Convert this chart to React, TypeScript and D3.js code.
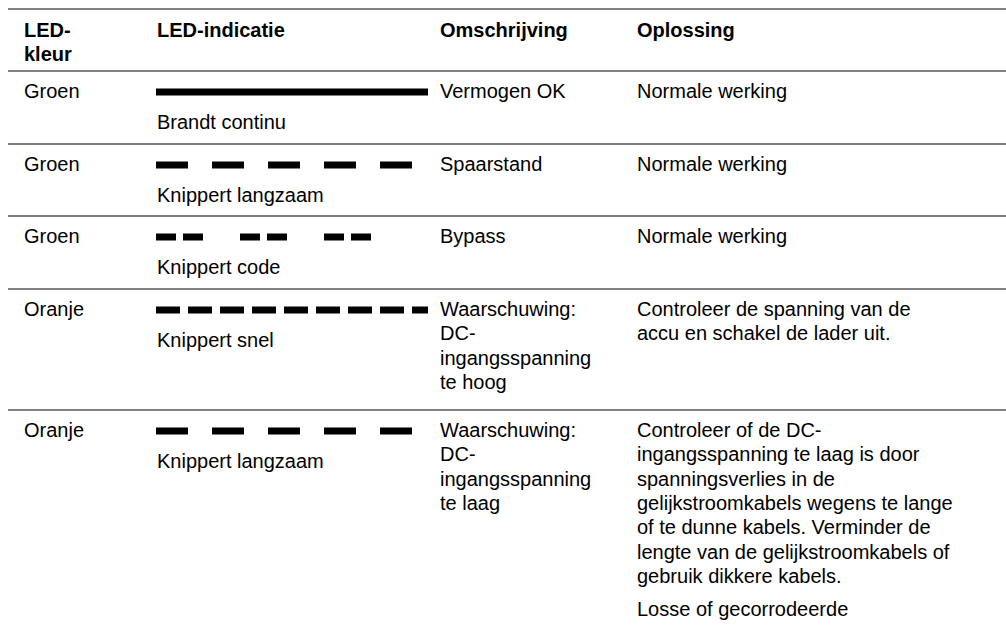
import React, { useEffect, useRef } from "react";
import * as d3 from "d3";

// table content
const headers = [["LED-", "kleur"], ["LED-indicatie"], ["Omschrijving"], ["Oplossing"]];
const colours = ["Groen", "Groen", "Groen", "Oranje", "Oranje"];
const patterns = ["solid", "slow", "code", "fast", "slow"];
const indications = ["Brandt continu", "Knippert langzaam", "Knippert code", "Knippert snel", "Knippert langzaam"];
const descriptions = [
  ["Vermogen OK"],
  ["Spaarstand"],
  ["Bypass"],
  ["Waarschuwing:", "DC-", "ingangsspanning", "te hoog"],
  ["Waarschuwing:", "DC-", "ingangsspanning", "te laag"],
];
const solutions = [
  [["Normale werking"]],
  [["Normale werking"]],
  [["Normale werking"]],
  [["Controleer de spanning van de", "accu en schakel de lader uit."]],
  [
    [
      "Controleer of de DC-",
      "ingangsspanning te laag is door",
      "spanningsverlies in de",
      "gelijkstroomkabels wegens te lange",
      "of te dunne kabels. Verminder de",
      "lengte van de gelijkstroomkabels of",
      "gebruik dikkere kabels.",
    ],
    ["Losse of gecorrodeerde"],
  ],
];
// blink patterns: dash lengths / gaps and the span of the indicator
const patternDash: Record<string, string | null> = {
  solid: null,
  slow: "32,24",
  code: "20,7,20,37",
  fast: "24,8",
};
const patternSpan: Record<string, number> = { solid: 272, slow: 272, code: 216, fast: 272 };

function LedTable() {
  const svgRef = useRef<SVGSVGElement>(null);
  const svgWidth = 1006;
  const svgHeight = 628;

  useEffect(() => {
    const svg = d3.select(svgRef.current);
    svg.selectAll("*").remove();

    const colX = [24, 157, 440, 637];
    const left = 8;
    const lineH = 24.3;
    const headerTop = 9;
    const headerBottom = 71;

    const font = "'Liberation Sans', Arial, sans-serif";
    const fontSize = 20;

    // row heights from number of text lines
    const rowLines = descriptions.map((d, i) => {
      const sol = solutions[i].reduce((s, p) => s + p.length, 0);
      return Math.max(2, d.length, sol);
    });
    const rowTops: number[] = [];
    let y = headerBottom;
    rowLines.forEach((n) => {
      rowTops.push(Math.round(y));
      y += n * lineH + 24;
    });

    const x = d3.scaleLinear().domain([0, 1]).range([156, 428]);

    // header
    headers.forEach((h, ci) => {
      h.forEach((t, li) => {
        svg
          .append("text")
          .attr("x", colX[ci])
          .attr("y", 37 + li * 24)
          .style("font-family", font)
          .style("font-size", fontSize + "px")
          .style("font-weight", "bold")
          .attr("fill", "#000")
          .text(t);
      });
    });

    // rule lines
    const rules = [headerTop, headerBottom, ...rowTops.slice(1)];
    svg
      .selectAll(".rule")
      .data(rules)
      .enter()
      .append("line")
      .attr("class", "rule")
      .attr("x1", left)
      .attr("x2", svgWidth)
      .attr("y1", (d) => d)
      .attr("y2", (d) => d)
      .attr("stroke", "#808080")
      .attr("stroke-width", 2);

    const addText = (t: string, xx: number, yy: number) =>
      svg
        .append("text")
        .attr("x", xx)
        .attr("y", yy)
        .style("font-family", font)
        .style("font-size", fontSize + "px")
        .attr("fill", "#000")
        .text(t);

    rowTops.forEach((top, i) => {
      const base = top + 27;
      addText(colours[i], colX[0], base);

      // LED indicator
      const p = patterns[i];
      const span = patternSpan[p];
      const ind = svg
        .append("line")
        .attr("x1", x(0))
        .attr("x2", x(0) + span)
        .attr("y1", top + 21)
        .attr("y2", top + 21)
        .attr("stroke", "#000")
        .attr("stroke-width", 7);
      if (patternDash[p]) ind.attr("stroke-dasharray", patternDash[p] as string);
      addText(indications[i], colX[1], top + 58);

      descriptions[i].forEach((t, li) => addText(t, colX[2], base + li * lineH));

      let line = 0;
      let extra = 0;
      solutions[i].forEach((para, pi) => {
        if (pi > 0) extra += 9;
        para.forEach((t) => {
          addText(t, colX[3], base + line * lineH + extra);
          line++;
        });
      });
    });
  }, []);

  return (
    <svg
      ref={svgRef}
      width={svgWidth}
      height={svgHeight}
      style={{ position: "absolute", left: 0, top: 0, background: "#fff" }}
    ></svg>
  );
}

export default function App() {
  return <LedTable />;
}
